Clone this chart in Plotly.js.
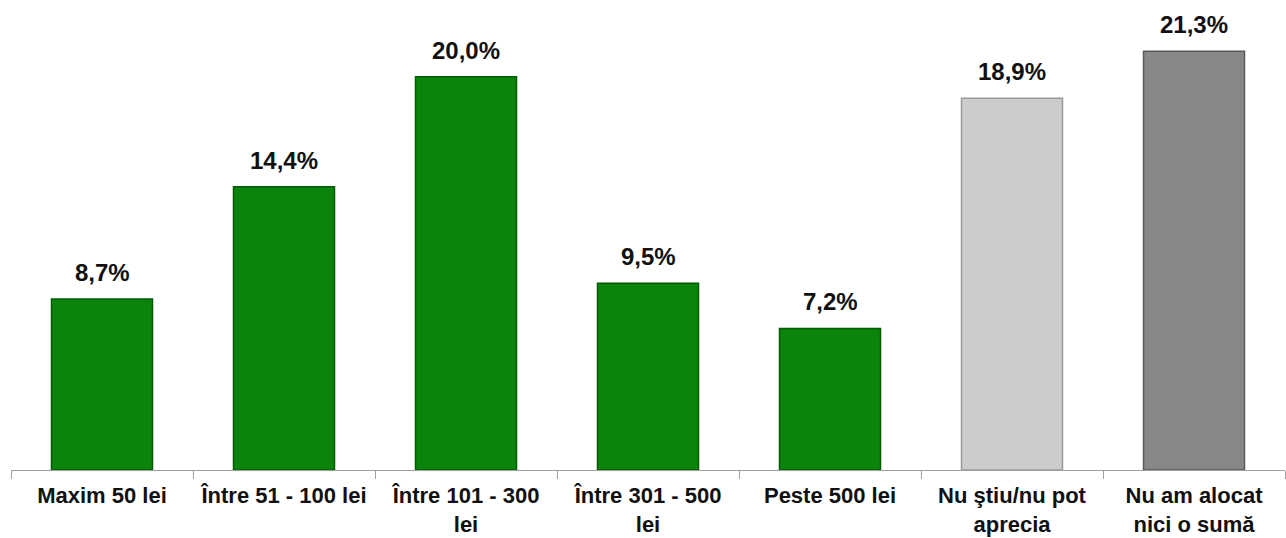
<!DOCTYPE html>
<html>
<head>
<meta charset="utf-8">
<script src="https://cdn.plot.ly/plotly-3.0.1.min.js"></script>
<style>html,body{margin:0;padding:0;background:#fff;}#chart{width:1286px;height:538px;}</style>
</head>
<body>
<div id="chart"></div>
<script>
const categories = ["Maxim 50 lei", "Între 51 - 100 lei", "Între 101 - 300<br>lei", "Între 301 - 500<br>lei", "Peste 500 lei", "Nu ştiu/nu pot<br>aprecia", "Nu am alocat<br>nici o sumă"];
const values = [8.7, 14.4, 20.0, 9.5, 7.2, 18.9, 21.3];
const barColors = ["#0a840a", "#0a840a", "#0a840a", "#0a840a", "#0a840a", "#cccccc", "#878787"];
const edgeColors = ["#055a05", "#055a05", "#055a05", "#055a05", "#055a05", "#9a9a9a", "#5a5a5a"];

const labels = values.map(v => v.toFixed(1).replace('.', ',') + '%');

const trace = {
  type: 'bar',
  x: categories,
  y: values,
  marker: {color: barColors, line: {color: edgeColors, width: 1.5}},
  hoverinfo: 'none'
};

const FONT = 'Liberation Sans, Arial, sans-serif';

const annotations = categories.map((c, i) => ({
  x: c, y: values[i], xref: 'x', yref: 'y',
  text: labels[i], showarrow: false, yanchor: 'bottom', yshift: 11,
  font: {family: FONT, size: 24, color: '#111', weight: 'bold'}
}));

const layout = {
  width: 1286, height: 538,
  margin: {l: 11, r: 1, t: 0, b: 68},
  paper_bgcolor: '#fff', plot_bgcolor: '#fff',
  bargap: 0.445,
  showlegend: false,
  font: {family: FONT, color: '#111'},
  xaxis: {
    type: 'category',
    showline: true, linecolor: '#a0a0a0', linewidth: 1,
    ticks: 'outside', tickson: 'boundaries', ticklen: 8, tickcolor: '#a0a0a0',
    ticklabelstandoff: 6, tickangle: 0,
    tickfont: {family: FONT, size: 22, color: '#111', weight: 'bold'},
    showgrid: false, fixedrange: true
  },
  yaxis: {
    range: [0, 23.9], visible: false, showgrid: false, zeroline: false, fixedrange: true
  },
  annotations: annotations
};

Plotly.newPlot('chart', [trace], layout, {displayModeBar: false, staticPlot: true});
</script>
</body>
</html>
